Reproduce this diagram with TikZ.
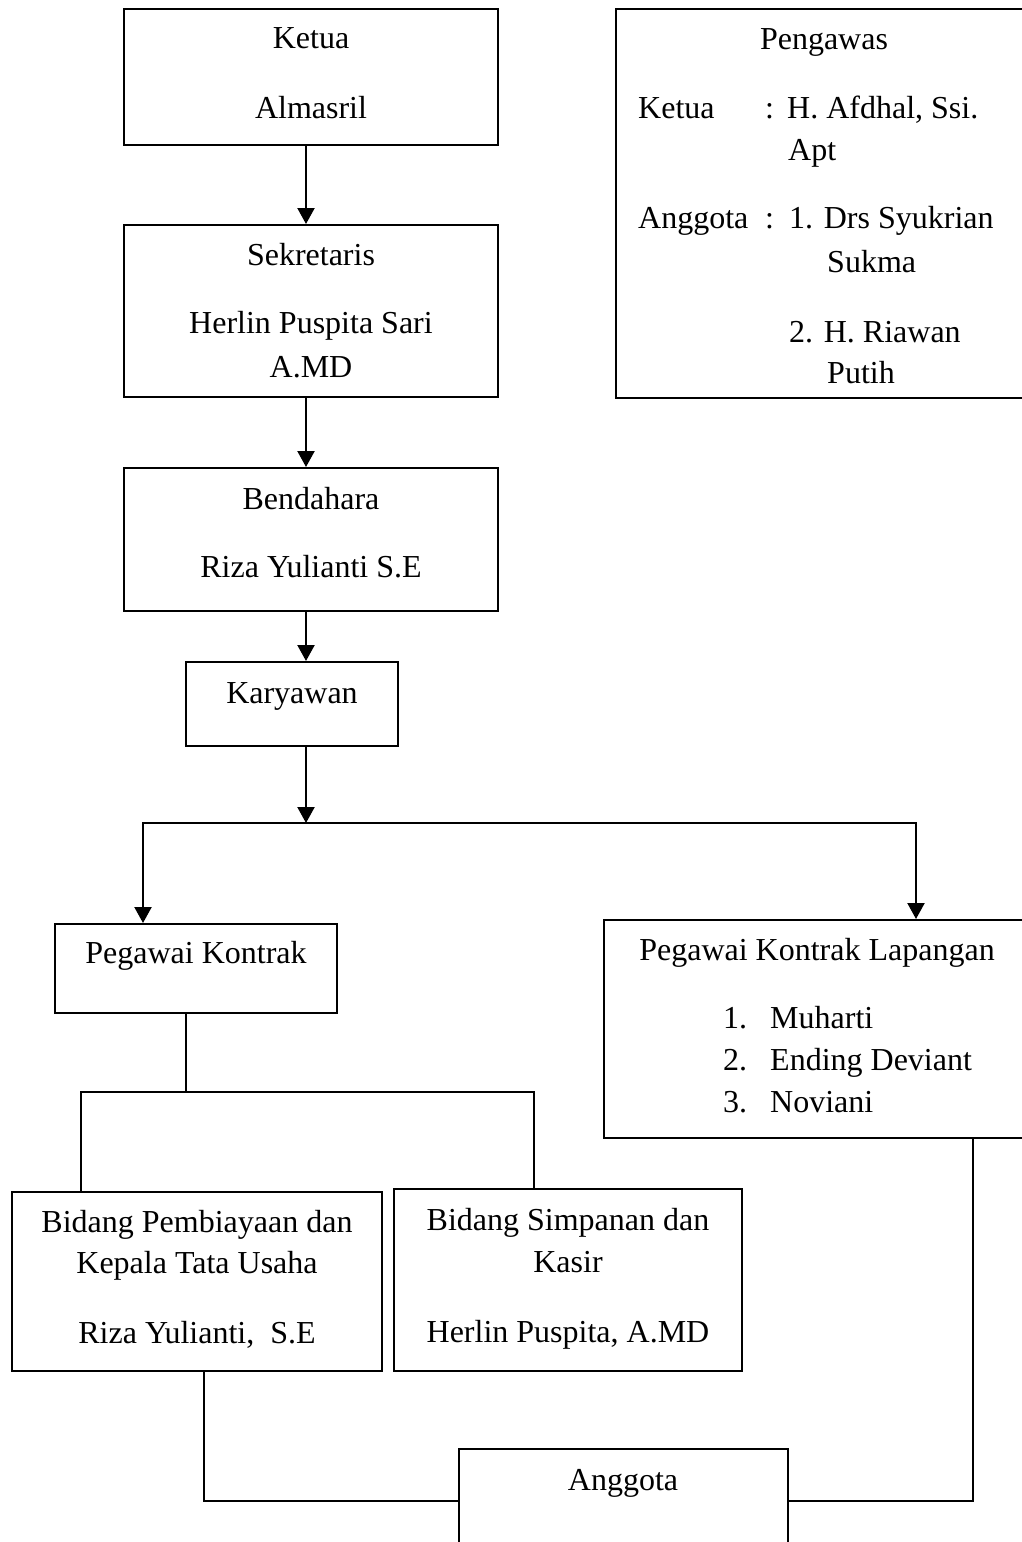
\documentclass[tikz,border=0pt]{standalone}
\usepackage{fontspec}
\setmainfont{Liberation Serif}
\usetikzlibrary{arrows.meta,fit}
\begin{document}
\begin{tikzpicture}[x=1pt,y=-1pt,
  box/.style={draw,line width=2pt,inner sep=0pt},
  txt/.style={inner sep=0pt,font=\fontsize{32}{40}\selectfont,anchor=base},
  ltxt/.style={txt,anchor=base west},
  arr/.style={line width=2.2pt,-{Triangle[width=17pt,length=16pt]}},
  con/.style={line width=2pt}]
\useasboundingbox (0,0) rectangle (1022,1542);
\clip (0,0) rectangle (1022,1542);
% boxes
\node[box,fit={(124,9) (498,145)}] (ketua) {};
\node[box,fit={(124,225) (498,397)}] (sek) {};
\node[box,fit={(124,468) (498,611)}] (bend) {};
\node[box,fit={(186,662) (398,746)}] (kary) {};
\node[box,fit={(616,9) (1040,398)}] (peng) {};
\node[box,fit={(55,924) (337,1013)}] (pk) {};
\node[box,fit={(604,920) (1040,1138)}] (pkl) {};
\node[box,fit={(12,1192) (382,1371)}] (bp) {};
\node[box,fit={(394,1189) (742,1371)}] (bs) {};
\node[box,fit={(459,1449) (788,1570)}] (ang) {};
% texts
\node[txt] (t1) at (311,48) {Ketua};
\node[txt] (t2) at (311,118) {Almasril};
\node[txt] (t3) at (311,265) {Sekretaris};
\node[txt] (t4) at (311,333) {Herlin Puspita Sari};
\node[txt] (t5) at (311,377) {A.MD};
\node[txt] (t6) at (311,509) {Bendahara};
\node[txt] (t7) at (311,577) {Riza Yulianti S.E};
\node[txt] (t8) at (292,703) {Karyawan};
\node[txt] (p0) at (824,49) {Pengawas};
\node[ltxt] (p1) at (638,118) {Ketua};
\node[ltxt] (p2) at (765,118) {:};
\node[ltxt] (p3) at (787,118) {H. Afdhal, Ssi.};
\node[ltxt] (p4) at (788,160) {Apt};
\node[ltxt] (p5) at (638,228) {Anggota};
\node[ltxt] (p6) at (765,228) {:};
\node[ltxt] (p7) at (789,228) {1. Drs Syukrian};
\node[ltxt] (p8) at (827,272) {Sukma};
\node[ltxt] (p9) at (789,342) {2. H. Riawan};
\node[ltxt] (p10) at (827,383) {Putih};
\node[txt] (k1) at (196,963) {Pegawai Kontrak};
\node[txt] (l0) at (817,960) {Pegawai Kontrak Lapangan};
\node[ltxt] (l1n) at (723,1028) {1.};
\node[ltxt] (l1) at (770,1028) {Muharti};
\node[ltxt] (l2n) at (723,1070) {2.};
\node[ltxt] (l2) at (770,1070) {Ending Deviant};
\node[ltxt] (l3n) at (723,1112) {3.};
\node[ltxt] (l3) at (770,1112) {Noviani};
\node[txt] (b1) at (197,1232) {Bidang Pembiayaan dan};
\node[txt] (b2) at (197,1273) {Kepala Tata Usaha};
\node[txt] (b3) at (197,1343) {Riza Yulianti,~ S.E};
\node[txt] (s1) at (568,1230) {Bidang Simpanan dan};
\node[txt] (s2) at (568,1272) {Kasir};
\node[txt] (s3) at (568,1342) {Herlin Puspita, A.MD};
\node[txt] (a1) at (623,1490) {Anggota};
% connectors
\coordinate (ax) at (306,0);
\draw[arr] (ketua.south -| ax) -- (sek.north -| ax);
\draw[arr] (sek.south -| ax) -- (bend.north -| ax);
\draw[arr] (bend.south -| ax) -- (kary.north -| ax);
\coordinate (split) at (306,823);
\coordinate (sl) at (143,0);
\coordinate (sr) at (916,0);
\draw[arr] (kary.south -| ax) -- (split);
\draw[arr] (split) -| (pk.north -| sl);
\draw[arr] (split) -| (pkl.north -| sr);
\coordinate (pkx) at (186,1092);
\coordinate (bpx) at (81,0);
\coordinate (bsx) at (534,0);
\draw[con] (pk.south -| pkx) -- (pkx);
\draw[con] (pkx) -| (bp.north -| bpx);
\draw[con] (pkx) -| (bs.north -| bsx);
\coordinate (bpd) at (204,0);
\coordinate (pkld) at (973,0);
\coordinate (jy) at (0,1501);
\draw[con] (bp.south -| bpd) |- (ang.west |- jy);
\draw[con] (pkl.south -| pkld) |- (ang.east |- jy);
\end{tikzpicture}
\end{document}
